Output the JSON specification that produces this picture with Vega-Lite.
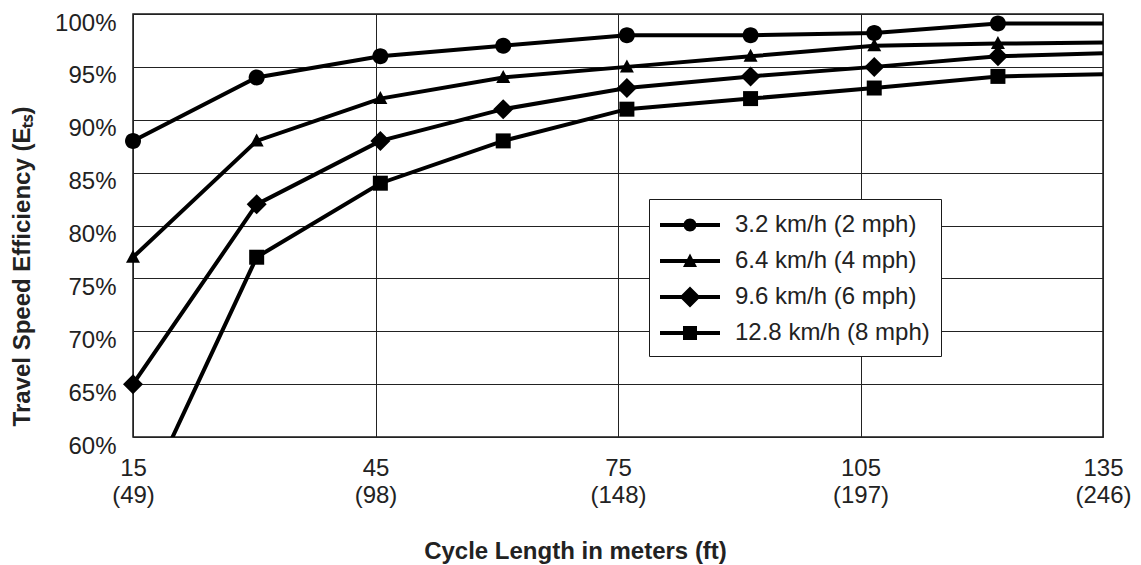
{
  "$schema": "https://vega.github.io/schema/vega-lite/v6.json",
  "width": 970,
  "height": 423,
  "autosize": {"type": "none"},
  "padding": {"left": 133, "top": 14, "right": 38, "bottom": 128},
  "background": "white",
  "title": {
    "text": "Travel Speed Efficiency",
    "fontSize": 27,
    "fontWeight": "bold",
    "font": "Liberation Sans",
    "color": "#222222",
    "anchor": "middle",
    "frame": "group",
    "baseline": "alphabetic",
    "offset": 18,
    "dx": -50
  },
  "config": {
    "font": "Liberation Sans",
    "view": {"stroke": "#1a1a1a", "strokeWidth": 1.5},
    "axis": {
      "labelFont": "Liberation Sans",
      "labelFontSize": 24,
      "labelColor": "#222222",
      "ticks": false,
      "tickSize": 0,
      "domain": false,
      "grid": true,
      "gridColor": "#222222",
      "gridWidth": 1,
      "gridOpacity": 1,
      "labelFlush": false,
      "labelOverlap": false,
      "titleFont": "Liberation Sans",
      "titleFontSize": 24,
      "titleFontWeight": "bold",
      "titleColor": "#222222"
    },
    "legend": {
      "labelFont": "Liberation Sans",
      "labelFontSize": 24,
      "labelColor": "#222222",
      "labelLimit": 0
    }
  },
  "data": {
    "values": [
      {"x": 15, "y": 88, "s": "3.2 km/h (2 mph)"},
      {"x": 30.3, "y": 94, "s": "3.2 km/h (2 mph)"},
      {"x": 45.6, "y": 96, "s": "3.2 km/h (2 mph)"},
      {"x": 60.8, "y": 97, "s": "3.2 km/h (2 mph)"},
      {"x": 76.1, "y": 98, "s": "3.2 km/h (2 mph)"},
      {"x": 91.4, "y": 98, "s": "3.2 km/h (2 mph)"},
      {"x": 106.7, "y": 98.2, "s": "3.2 km/h (2 mph)"},
      {"x": 122, "y": 99.1, "s": "3.2 km/h (2 mph)"},
      {"x": 135, "y": 99.1, "s": "3.2 km/h (2 mph)"},
      {"x": 15, "y": 77, "s": "6.4 km/h (4 mph)"},
      {"x": 30.3, "y": 88, "s": "6.4 km/h (4 mph)"},
      {"x": 45.6, "y": 92, "s": "6.4 km/h (4 mph)"},
      {"x": 60.8, "y": 94, "s": "6.4 km/h (4 mph)"},
      {"x": 76.1, "y": 95, "s": "6.4 km/h (4 mph)"},
      {"x": 91.4, "y": 96, "s": "6.4 km/h (4 mph)"},
      {"x": 106.7, "y": 97, "s": "6.4 km/h (4 mph)"},
      {"x": 122, "y": 97.2, "s": "6.4 km/h (4 mph)"},
      {"x": 135, "y": 97.3, "s": "6.4 km/h (4 mph)"},
      {"x": 15, "y": 65, "s": "9.6 km/h (6 mph)"},
      {"x": 30.3, "y": 82, "s": "9.6 km/h (6 mph)"},
      {"x": 45.6, "y": 88, "s": "9.6 km/h (6 mph)"},
      {"x": 60.8, "y": 91, "s": "9.6 km/h (6 mph)"},
      {"x": 76.1, "y": 93, "s": "9.6 km/h (6 mph)"},
      {"x": 91.4, "y": 94.1, "s": "9.6 km/h (6 mph)"},
      {"x": 106.7, "y": 95, "s": "9.6 km/h (6 mph)"},
      {"x": 122, "y": 96, "s": "9.6 km/h (6 mph)"},
      {"x": 135, "y": 96.3, "s": "9.6 km/h (6 mph)"},
      {"x": 15, "y": 52, "s": "12.8 km/h (8 mph)"},
      {"x": 30.3, "y": 77, "s": "12.8 km/h (8 mph)"},
      {"x": 45.6, "y": 84, "s": "12.8 km/h (8 mph)"},
      {"x": 60.8, "y": 88, "s": "12.8 km/h (8 mph)"},
      {"x": 76.1, "y": 91, "s": "12.8 km/h (8 mph)"},
      {"x": 91.4, "y": 92, "s": "12.8 km/h (8 mph)"},
      {"x": 106.7, "y": 93, "s": "12.8 km/h (8 mph)"},
      {"x": 122, "y": 94.1, "s": "12.8 km/h (8 mph)"},
      {"x": 135, "y": 94.3, "s": "12.8 km/h (8 mph)"}
    ]
  },
  "encoding": {
    "x": {
      "field": "x",
      "type": "quantitative",
      "scale": {"domain": [15, 135], "nice": false, "zero": false},
      "axis": {
        "values": [15, 45, 75, 105, 135],
        "labelExpr": "datum.value == 15 ? ['15', '(49)'] : datum.value == 45 ? ['45', '(98)'] : datum.value == 75 ? ['75', '(148)'] : datum.value == 105 ? ['105', '(197)'] : ['135', '(246)']",
        "labelBaseline": "top",
        "labelPadding": 19,
        "labelLineHeight": 27,
        "title": "Cycle Length in meters (ft)",
        "titleX": 442,
        "titleY": 114,
        "titleAlign": "center",
        "titleBaseline": "middle"
      }
    },
    "y": {
      "field": "y",
      "type": "quantitative",
      "scale": {"domain": [60, 100], "nice": false, "zero": false},
      "axis": {
        "values": [60, 65, 70, 75, 80, 85, 90, 95, 100],
        "labelExpr": "datum.value + '%'",
        "labelPadding": 17,
        "labelOffset": 9,
        "title": "Travel Speed Efficiency (Eₜₛ)",
        "titleX": -111,
        "titleY": 252,
        "titleAngle": 270,
        "titleAlign": "center",
        "titleBaseline": "middle"
      }
    }
  },
  "layer": [
    {
      "mark": {"type": "line", "color": "black", "strokeWidth": 4, "clip": true},
      "encoding": {"detail": {"field": "s", "type": "nominal"}}
    },
    {
      "transform": [{"filter": "datum.x < 135 && datum.y >= 60"}],
      "mark": {"type": "point", "filled": true, "color": "black", "opacity": 1, "size": 400},
      "encoding": {
        "shape": {
          "field": "s",
          "type": "nominal",
          "scale": {
            "domain": ["3.2 km/h (2 mph)", "6.4 km/h (4 mph)", "9.6 km/h (6 mph)", "12.8 km/h (8 mph)"],
            "range": [
              "M-0.8,0A0.8,0.8 0 1,1 0.8,0A0.8,0.8 0 1,1 -0.8,0Z",
              "M0,-0.75L0.7,0.55L-0.7,0.55Z",
              "M0,-1L1,0L0,1L-1,0Z",
              "M-0.75,-0.75H0.75V0.75H-0.75Z"
            ]
          },
          "legend": null
        }
      }
    },
    {
      "transform": [{"filter": "datum.x < 0"}],
      "mark": {"type": "point", "filled": true, "color": "black", "opacity": 1, "size": 900},
      "encoding": {
        "shape": {
          "field": "s",
          "type": "nominal",
          "scale": {
            "domain": ["3.2 km/h (2 mph)", "6.4 km/h (4 mph)", "9.6 km/h (6 mph)", "12.8 km/h (8 mph)"],
            "range": [
              "M-2,-0.133H2V0.133H-2Z M-0.433,0A0.433,0.433 0 1,1 0.433,0A0.433,0.433 0 1,1 -0.433,0Z",
              "M-2,-0.133H2V0.133H-2Z M0,-0.5L0.467,0.4L-0.467,0.4Z",
              "M-2,-0.133H2V0.133H-2Z M0,-0.7L0.7,0L0,0.7L-0.7,0Z",
              "M-2,-0.133H2V0.133H-2Z M-0.467,-0.467H0.467V0.467H-0.467Z"
            ]
          },
          "legend": {
            "title": null,
            "orient": "none",
            "legendX": 516,
            "legendY": 185,
            "padding": 11,
            "symbolOffset": 15,
            "labelOffset": 30,
            "rowPadding": 9,
            "symbolSize": 900,
            "symbolStrokeWidth": 0,
            "symbolFillColor": "black",
            "symbolOpacity": 1,
            "labelBaseline": "middle",
            "strokeColor": "#1a1a1a",
            "fillColor": "white",
            "encode": {"legend": {"update": {"strokeWidth": {"value": 1.5}}}}
          }
        }
      }
    }
  ],
  "resolve": {"scale": {"shape": "independent"}, "legend": {"shape": "independent"}}
}
